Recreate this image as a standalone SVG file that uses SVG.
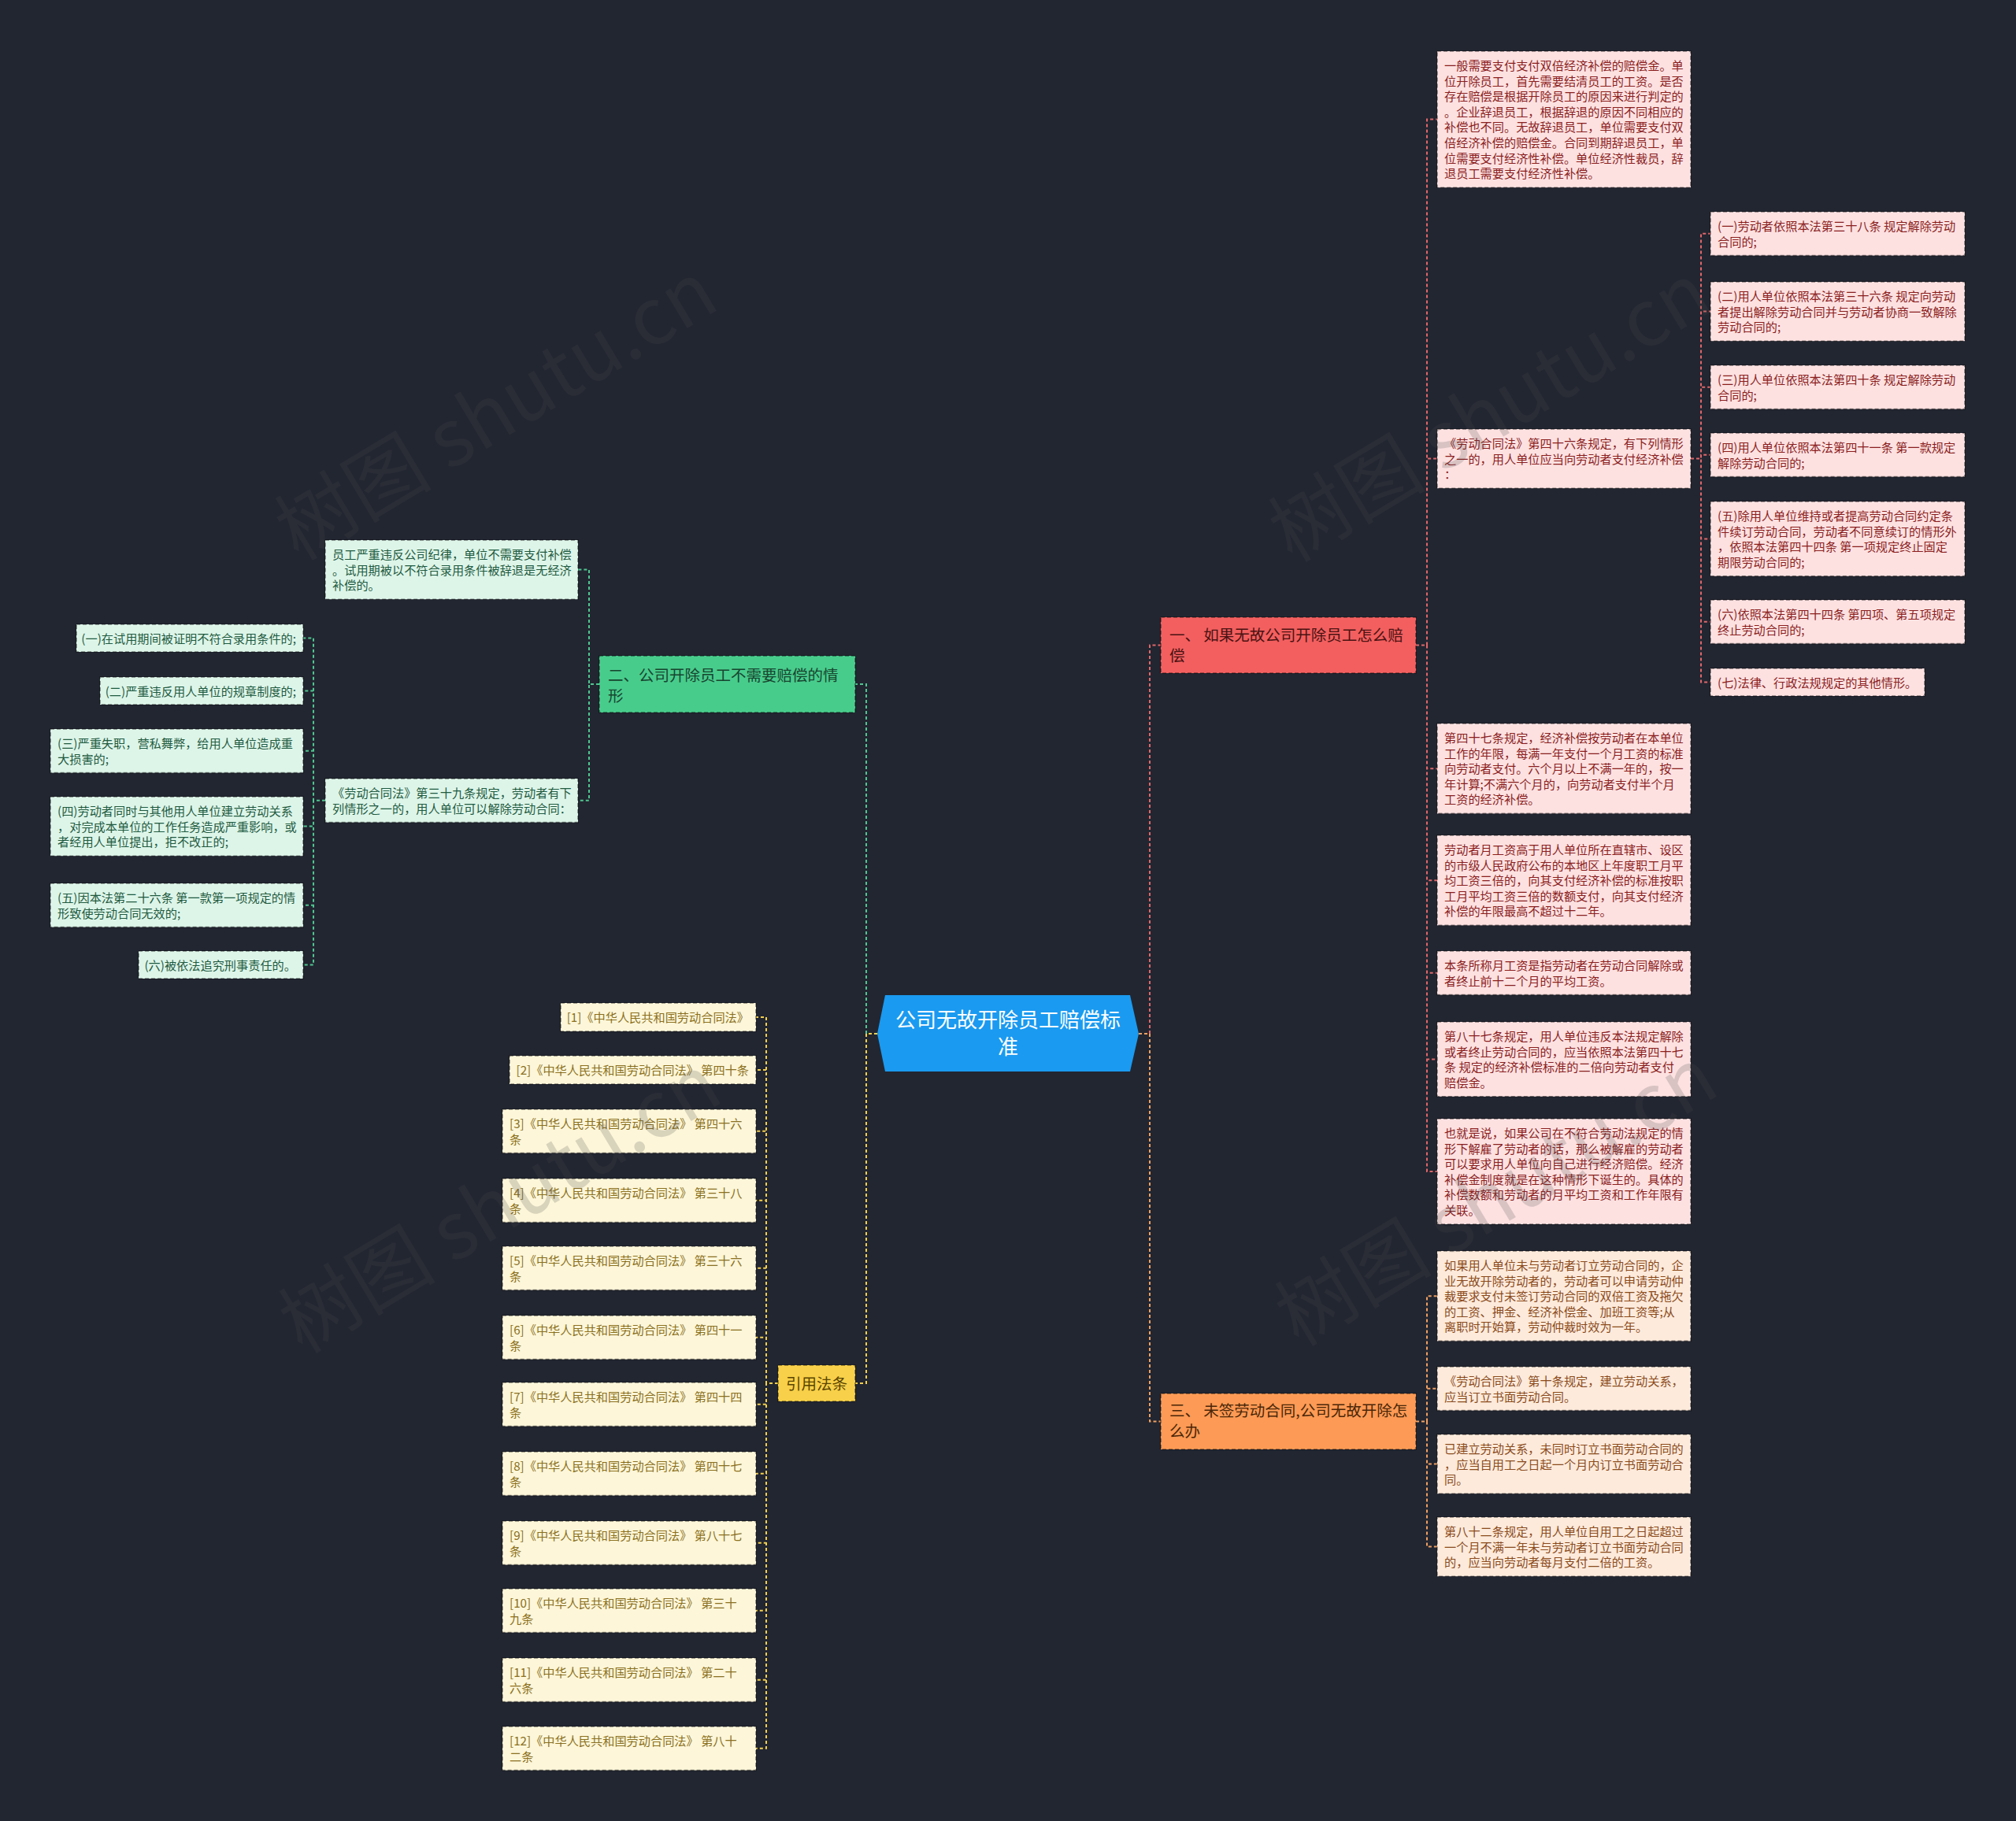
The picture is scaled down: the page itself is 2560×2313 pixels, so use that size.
<svg xmlns="http://www.w3.org/2000/svg" width="2560" height="2313" viewBox="0 0 2560 2313">
<defs>
<style>
text{font-family:"Noto Sans CJK SC","Noto Sans",sans-serif;}
.box{stroke:#000;stroke-opacity:0.45;stroke-width:1.6;stroke-dasharray:5 3;}
.n{font-size:15.2px;}
.b{font-size:19.5px;}
.pk rect{fill:#fde1e1;} .pk text{fill:#8a1e1e;}
.pe rect{fill:#fdeadb;} .pe text{fill:#8a4a1c;}
.mi rect{fill:#ddf5e9;} .mi text{fill:#1f5a40;}
.cr rect{fill:#fdf6d9;} .cr text{fill:#8a7020;}
.c{fill:none;stroke-width:2;stroke-dasharray:4 3;}
.cR{stroke:#e0676a;} .cO{stroke:#f0a062;} .cG{stroke:#4fc690;} .cY{stroke:#f3cf4c;}
.wm{font-size:100px;fill:#4a4a4a;opacity:0.2;}
</style>
</defs>
<rect width="2560" height="2313" fill="#222631"/>

<g id="connectors">
<path class="c cR" d="M1446,1313 H1460 V819.5 H1474"/>
<path class="c cO" d="M1446,1313 H1460 V1805.5 H1474"/>
<path class="c cG" d="M1114,1313 H1100 V869 H1086"/>
<path class="c cY" d="M1114,1313 H1100 V1757 H1086"/>
<path class="c cR" d="M1798,819.5 H1812 V151.6 H1825 M1798,819.5 H1812 V582.6 H1825 M1798,819.5 H1812 V976.2 H1825 M1798,819.5 H1812 V1118.2 H1825 M1798,819.5 H1812 V1235.8 H1825 M1798,819.5 H1812 V1345.4 H1825 M1798,819.5 H1812 V1488 H1825"/>
<path class="c cR" d="M2147,582.6 H2160 V296.8 H2172 M2147,582.6 H2160 V395.6 H2172 M2147,582.6 H2160 V491.8 H2172 M2147,582.6 H2160 V577.8 H2172 M2147,582.6 H2160 V684.4 H2172 M2147,582.6 H2160 V789.8 H2172 M2147,582.6 H2160 V866.5 H2172"/>
<path class="c cO" d="M1798,1805.5 H1812 V1646.2 H1825 M1798,1805.5 H1812 V1763.8 H1825 M1798,1805.5 H1812 V1859.6 H1825 M1798,1805.5 H1812 V1964.6 H1825"/>
<path class="c cG" d="M761,869 H748 V723.6 H734 M761,869 H748 V1016.8 H734"/>
<path class="c cG" d="M413,1016.8 H398 V810.5 H385 M413,1016.8 H398 V877.5 H385 M413,1016.8 H398 V953.8 H385 M413,1016.8 H398 V1049.6 H385 M413,1016.8 H398 V1149.8 H385 M413,1016.8 H398 V1225.5 H385"/>
<path class="c cY" d="M988,1757 H973 V1292 H960 M988,1757 H973 V1359 H960 M988,1757 H973 V1436.8 H960 M988,1757 H973 V1524.8 H960 M988,1757 H973 V1610.8 H960 M988,1757 H973 V1698.8 H960 M988,1757 H973 V1783.8 H960 M988,1757 H973 V1871.8 H960 M988,1757 H973 V1959.8 H960 M988,1757 H973 V2045.8 H960 M988,1757 H973 V2133.8 H960 M988,1757 H973 V2220.8 H960"/>
</g>

<g id="center">
<polygon points="1114,1313 1124,1264 1435,1264 1446,1313 1435,1361 1124,1361" fill="#1a9af0"/>
<text font-size="26" fill="#ffffff" text-anchor="middle"><tspan x="1280" y="1305">公司无故开除员工赔偿标</tspan><tspan x="1280" y="1339">准</tspan></text>
</g>

<g id="branch1">
<rect class="box" x="1474" y="784" width="324" height="71" fill="#f35f5f"/>
<text class="b" fill="#4a1212"><tspan x="1485" y="814">一、 如果无故公司开除员工怎么赔</tspan><tspan x="1485" y="840">偿</tspan></text>
</g>
<g id="branch3">
<rect class="box" x="1474" y="1770" width="324" height="71" fill="#fd9a55"/>
<text class="b" fill="#4a2608"><tspan x="1485" y="1799">三、 未签劳动合同,公司无故开除怎</tspan><tspan x="1485" y="1825">么办</tspan></text>
</g>
<g id="branch2">
<rect class="box" x="761" y="833" width="325" height="72" fill="#48cc8c"/>
<text class="b" fill="#17452f"><tspan x="772" y="864.5">二、公司开除员工不需要赔偿的情</tspan><tspan x="772" y="890.5">形</tspan></text>
</g>
<g id="branch4">
<rect class="box" x="988" y="1734" width="98" height="46" fill="#f8d049"/>
<text class="b" fill="#5a4500" text-anchor="middle" x="1037" y="1764.5">引用法条</text>
</g>

<g id="r1" class="pk"><rect class="box" x="1825" y="65" width="322" height="173.2"/>
<text class="n"><tspan x="1834" y="89">一般需要支付支付双倍经济补偿的赔偿金。单</tspan><tspan x="1834" y="108.6">位开除员工，首先需要结清员工的工资。是否</tspan><tspan x="1834" y="128.2">存在赔偿是根据开除员工的原因来进行判定的</tspan><tspan x="1834" y="147.8">。企业辞退员工，根据辞退的原因不同相应的</tspan><tspan x="1834" y="167.4">补偿也不同。无故辞退员工，单位需要支付双</tspan><tspan x="1834" y="187">倍经济补偿的赔偿金。合同到期辞退员工，单</tspan><tspan x="1834" y="206.6">位需要支付经济性补偿。单位经济性裁员，辞</tspan><tspan x="1834" y="226.2">退员工需要支付经济性补偿。</tspan></text></g>
<g id="r2" class="pk"><rect class="box" x="1825" y="545" width="322" height="75.2"/>
<text class="n"><tspan x="1834" y="569">《劳动合同法》第四十六条规定，有下列情形</tspan><tspan x="1834" y="588.6">之一的，用人单位应当向劳动者支付经济补偿</tspan><tspan x="1834" y="608.2">：</tspan></text></g>
<g id="r3" class="pk"><rect class="box" x="1825" y="919" width="322" height="114.4"/>
<text class="n"><tspan x="1834" y="943">第四十七条规定，经济补偿按劳动者在本单位</tspan><tspan x="1834" y="962.6">工作的年限，每满一年支付一个月工资的标准</tspan><tspan x="1834" y="982.2">向劳动者支付。六个月以上不满一年的，按一</tspan><tspan x="1834" y="1001.8">年计算;不满六个月的，向劳动者支付半个月</tspan><tspan x="1834" y="1021.4">工资的经济补偿。</tspan></text></g>
<g id="r4" class="pk"><rect class="box" x="1825" y="1061" width="322" height="114.4"/>
<text class="n"><tspan x="1834" y="1085">劳动者月工资高于用人单位所在直辖市、设区</tspan><tspan x="1834" y="1104.6">的市级人民政府公布的本地区上年度职工月平</tspan><tspan x="1834" y="1124.2">均工资三倍的，向其支付经济补偿的标准按职</tspan><tspan x="1834" y="1143.8">工月平均工资三倍的数额支付，向其支付经济</tspan><tspan x="1834" y="1163.4">补偿的年限最高不超过十二年。</tspan></text></g>
<g id="r5" class="pk"><rect class="box" x="1825" y="1208" width="322" height="55.6"/>
<text class="n"><tspan x="1834" y="1232">本条所称月工资是指劳动者在劳动合同解除或</tspan><tspan x="1834" y="1251.6">者终止前十二个月的平均工资。</tspan></text></g>
<g id="r6" class="pk"><rect class="box" x="1825" y="1298" width="322" height="94.8"/>
<text class="n"><tspan x="1834" y="1322">第八十七条规定，用人单位违反本法规定解除</tspan><tspan x="1834" y="1341.6">或者终止劳动合同的，应当依照本法第四十七</tspan><tspan x="1834" y="1361.2">条 规定的经济补偿标准的二倍向劳动者支付</tspan><tspan x="1834" y="1380.8">赔偿金。</tspan></text></g>
<g id="r7" class="pk"><rect class="box" x="1825" y="1421" width="322" height="134"/>
<text class="n"><tspan x="1834" y="1445">也就是说，如果公司在不符合劳动法规定的情</tspan><tspan x="1834" y="1464.6">形下解雇了劳动者的话，那么被解雇的劳动者</tspan><tspan x="1834" y="1484.2">可以要求用人单位向自己进行经济赔偿。经济</tspan><tspan x="1834" y="1503.8">补偿金制度就是在这种情形下诞生的。具体的</tspan><tspan x="1834" y="1523.4">补偿数额和劳动者的月平均工资和工作年限有</tspan><tspan x="1834" y="1543">关联。</tspan></text></g>

<g id="r2a" class="pk"><rect class="box" x="2172" y="269" width="323" height="55.6"/>
<text class="n"><tspan x="2181" y="293">(一)劳动者依照本法第三十八条 规定解除劳动</tspan><tspan x="2181" y="312.6">合同的;</tspan></text></g>
<g id="r2b" class="pk"><rect class="box" x="2172" y="358" width="323" height="75.2"/>
<text class="n"><tspan x="2181" y="382">(二)用人单位依照本法第三十六条 规定向劳动</tspan><tspan x="2181" y="401.6">者提出解除劳动合同并与劳动者协商一致解除</tspan><tspan x="2181" y="421.2">劳动合同的;</tspan></text></g>
<g id="r2c" class="pk"><rect class="box" x="2172" y="464" width="323" height="55.6"/>
<text class="n"><tspan x="2181" y="488">(三)用人单位依照本法第四十条 规定解除劳动</tspan><tspan x="2181" y="507.6">合同的;</tspan></text></g>
<g id="r2d" class="pk"><rect class="box" x="2172" y="550" width="323" height="55.6"/>
<text class="n"><tspan x="2181" y="574">(四)用人单位依照本法第四十一条 第一款规定</tspan><tspan x="2181" y="593.6">解除劳动合同的;</tspan></text></g>
<g id="r2e" class="pk"><rect class="box" x="2172" y="637" width="323" height="94.8"/>
<text class="n"><tspan x="2181" y="661">(五)除用人单位维持或者提高劳动合同约定条</tspan><tspan x="2181" y="680.6">件续订劳动合同，劳动者不同意续订的情形外</tspan><tspan x="2181" y="700.2">，依照本法第四十四条 第一项规定终止固定</tspan><tspan x="2181" y="719.8">期限劳动合同的;</tspan></text></g>
<g id="r2f" class="pk"><rect class="box" x="2172" y="762" width="323" height="55.6"/>
<text class="n"><tspan x="2181" y="786">(六)依照本法第四十四条 第四项、第五项规定</tspan><tspan x="2181" y="805.6">终止劳动合同的;</tspan></text></g>
<g id="r2g" class="pk"><rect class="box" x="2172" y="849" width="272" height="35"/>
<text class="n" x="2181" y="873">(七)法律、行政法规规定的其他情形。</text></g>

<g id="o1" class="pe"><rect class="box" x="1825" y="1589" width="322" height="114.4"/>
<text class="n"><tspan x="1834" y="1613">如果用人单位未与劳动者订立劳动合同的，企</tspan><tspan x="1834" y="1632.6">业无故开除劳动者的，劳动者可以申请劳动仲</tspan><tspan x="1834" y="1652.2">裁要求支付未签订劳动合同的双倍工资及拖欠</tspan><tspan x="1834" y="1671.8">的工资、押金、经济补偿金、加班工资等;从</tspan><tspan x="1834" y="1691.4">离职时开始算，劳动仲裁时效为一年。</tspan></text></g>
<g id="o2" class="pe"><rect class="box" x="1825" y="1736" width="322" height="55.6"/>
<text class="n"><tspan x="1834" y="1760">《劳动合同法》第十条规定，建立劳动关系，</tspan><tspan x="1834" y="1779.6">应当订立书面劳动合同。</tspan></text></g>
<g id="o3" class="pe"><rect class="box" x="1825" y="1822" width="322" height="75.2"/>
<text class="n"><tspan x="1834" y="1846">已建立劳动关系，未同时订立书面劳动合同的</tspan><tspan x="1834" y="1865.6">，应当自用工之日起一个月内订立书面劳动合</tspan><tspan x="1834" y="1885.2">同。</tspan></text></g>
<g id="o4" class="pe"><rect class="box" x="1825" y="1927" width="322" height="75.2"/>
<text class="n"><tspan x="1834" y="1951">第八十二条规定，用人单位自用工之日起超过</tspan><tspan x="1834" y="1970.6">一个月不满一年未与劳动者订立书面劳动合同</tspan><tspan x="1834" y="1990.2">的，应当向劳动者每月支付二倍的工资。</tspan></text></g>

<g id="g1" class="mi"><rect class="box" x="413" y="686" width="321" height="75.2"/>
<text class="n"><tspan x="422" y="710">员工严重违反公司纪律，单位不需要支付补偿</tspan><tspan x="422" y="729.6">。试用期被以不符合录用条件被辞退是无经济</tspan><tspan x="422" y="749.2">补偿的。</tspan></text></g>
<g id="g2" class="mi"><rect class="box" x="413" y="989" width="321" height="55.6"/>
<text class="n"><tspan x="422" y="1013">《劳动合同法》第三十九条规定，劳动者有下</tspan><tspan x="422" y="1032.6">列情形之一的，用人单位可以解除劳动合同：</tspan></text></g>
<g id="g2a" class="mi"><rect class="box" x="97" y="793" width="288" height="35"/>
<text class="n" x="376" y="817" text-anchor="end">(一)在试用期间被证明不符合录用条件的;</text></g>
<g id="g2b" class="mi"><rect class="box" x="127" y="860" width="258" height="35"/>
<text class="n" x="376" y="884" text-anchor="end">(二)严重违反用人单位的规章制度的;</text></g>
<g id="g2c" class="mi"><rect class="box" x="64" y="926" width="321" height="55.6"/>
<text class="n"><tspan x="73" y="950">(三)严重失职，营私舞弊，给用人单位造成重</tspan><tspan x="73" y="969.6">大损害的;</tspan></text></g>
<g id="g2d" class="mi"><rect class="box" x="64" y="1012" width="321" height="75.2"/>
<text class="n"><tspan x="73" y="1036">(四)劳动者同时与其他用人单位建立劳动关系</tspan><tspan x="73" y="1055.6">，对完成本单位的工作任务造成严重影响，或</tspan><tspan x="73" y="1075.2">者经用人单位提出，拒不改正的;</tspan></text></g>
<g id="g2e" class="mi"><rect class="box" x="64" y="1122" width="321" height="55.6"/>
<text class="n"><tspan x="73" y="1146">(五)因本法第二十六条 第一款第一项规定的情</tspan><tspan x="73" y="1165.6">形致使劳动合同无效的;</tspan></text></g>
<g id="g2f" class="mi"><rect class="box" x="176" y="1208" width="209" height="35"/>
<text class="n" x="376" y="1232" text-anchor="end">(六)被依法追究刑事责任的。</text></g>

<g id="y1" class="cr"><rect class="box" x="712" y="1274" width="248" height="36"/>
<text class="n" x="951" y="1298" text-anchor="end">[1]《中华人民共和国劳动合同法》</text></g>
<g id="y2" class="cr"><rect class="box" x="647" y="1341" width="313" height="36"/>
<text class="n" x="951" y="1365" text-anchor="end">[2]《中华人民共和国劳动合同法》 第四十条</text></g>
<g id="y3" class="cr"><rect class="box" x="638" y="1409" width="322" height="55.6"/>
<text class="n"><tspan x="647" y="1433">[3]《中华人民共和国劳动合同法》 第四十六</tspan><tspan x="647" y="1452.6">条</tspan></text></g>
<g id="y4" class="cr"><rect class="box" x="638" y="1497" width="322" height="55.6"/>
<text class="n"><tspan x="647" y="1521">[4]《中华人民共和国劳动合同法》 第三十八</tspan><tspan x="647" y="1540.6">条</tspan></text></g>
<g id="y5" class="cr"><rect class="box" x="638" y="1583" width="322" height="55.6"/>
<text class="n"><tspan x="647" y="1607">[5]《中华人民共和国劳动合同法》 第三十六</tspan><tspan x="647" y="1626.6">条</tspan></text></g>
<g id="y6" class="cr"><rect class="box" x="638" y="1671" width="322" height="55.6"/>
<text class="n"><tspan x="647" y="1695">[6]《中华人民共和国劳动合同法》 第四十一</tspan><tspan x="647" y="1714.6">条</tspan></text></g>
<g id="y7" class="cr"><rect class="box" x="638" y="1756" width="322" height="55.6"/>
<text class="n"><tspan x="647" y="1780">[7]《中华人民共和国劳动合同法》 第四十四</tspan><tspan x="647" y="1799.6">条</tspan></text></g>
<g id="y8" class="cr"><rect class="box" x="638" y="1844" width="322" height="55.6"/>
<text class="n"><tspan x="647" y="1868">[8]《中华人民共和国劳动合同法》 第四十七</tspan><tspan x="647" y="1887.6">条</tspan></text></g>
<g id="y9" class="cr"><rect class="box" x="638" y="1932" width="322" height="55.6"/>
<text class="n"><tspan x="647" y="1956">[9]《中华人民共和国劳动合同法》 第八十七</tspan><tspan x="647" y="1975.6">条</tspan></text></g>
<g id="y10" class="cr"><rect class="box" x="638" y="2018" width="322" height="55.6"/>
<text class="n"><tspan x="647" y="2042">[10]《中华人民共和国劳动合同法》 第三十</tspan><tspan x="647" y="2061.6">九条</tspan></text></g>
<g id="y11" class="cr"><rect class="box" x="638" y="2106" width="322" height="55.6"/>
<text class="n"><tspan x="647" y="2130">[11]《中华人民共和国劳动合同法》 第二十</tspan><tspan x="647" y="2149.6">六条</tspan></text></g>
<g id="y12" class="cr"><rect class="box" x="638" y="2193" width="322" height="55.6"/>
<text class="n"><tspan x="647" y="2217">[12]《中华人民共和国劳动合同法》 第八十</tspan><tspan x="647" y="2236.6">二条</tspan></text></g>

<g id="watermarks">
<text class="wm" text-anchor="middle" transform="translate(648,552) rotate(-31)">树图 shutu.cn</text>
<text class="wm" text-anchor="middle" transform="translate(1910,554) rotate(-31)">树图 shutu.cn</text>
<text class="wm" text-anchor="middle" transform="translate(653,1559) rotate(-31)">树图 shutu.cn</text>
<text class="wm" text-anchor="middle" transform="translate(1918,1550) rotate(-31)">树图 shutu.cn</text>
</g>
</svg>
